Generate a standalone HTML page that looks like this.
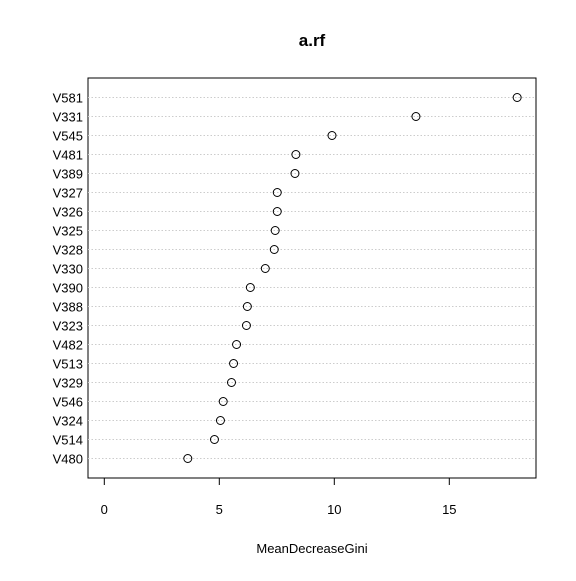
<!DOCTYPE html>
<html><head><meta charset="utf-8"><style>body{margin:0;background:#fff}svg text{font-family:"Liberation Sans",Arial,sans-serif}</style></head>
<body>
<svg id="c" width="576" height="576" viewBox="0 0 576 576">
<rect width="576" height="576" fill="#fff"/>
<text x="312" y="46" text-anchor="middle" font-size="17" font-weight="bold">a.rf</text>
<rect x="88" y="78" width="448" height="400" fill="none" stroke="#000" stroke-width="1"/>
<text x="312" y="553" text-anchor="middle" font-size="13">MeanDecreaseGini</text>
<g id="g"></g>
</svg>
<script>
const categories=["V581","V331","V545","V481","V389","V327","V326","V325","V328","V330","V390","V388","V323","V482","V513","V329","V546","V324","V514","V480"];
const values=[17.95,13.55,9.9,8.33,8.29,7.52,7.52,7.43,7.39,7.0,6.35,6.22,6.18,5.75,5.62,5.53,5.17,5.05,4.79,3.63];
const ticks=[0,5,10,15];
const g=document.getElementById('g');
const NS='http://www.w3.org/2000/svg';
const xs=v=>104.3+v*23.0;
const ys=i=>97.5+i*19;
function mk(t,a){const e=document.createElementNS(NS,t);for(const k in a)e.setAttribute(k,a[k]);g.appendChild(e);return e;}
categories.forEach((c,i)=>{
 const y=ys(i);
 const l=mk('line',{x1:88,x2:536,y1:y,y2:y,stroke:'#ccc','stroke-dasharray':'1.5,2','stroke-width':1});
 
 
 const t=mk('text',{x:83,y:y+5,'text-anchor':'end','font-size':13});
 t.textContent=c;
 
 
 const p=mk('circle',{cx:xs(values[i]),cy:y,r:4,fill:'none',stroke:'#000','stroke-width':1});
 
 
});
ticks.forEach(v=>{
 const x=xs(v);
 const l=mk('line',{x1:x,x2:x,y1:478,y2:485,stroke:'#000'});
 
 
 const t=mk('text',{x:x,y:514,'text-anchor':'middle','font-size':13});
 t.textContent=v;
 
 
});
</script>
</body></html>
